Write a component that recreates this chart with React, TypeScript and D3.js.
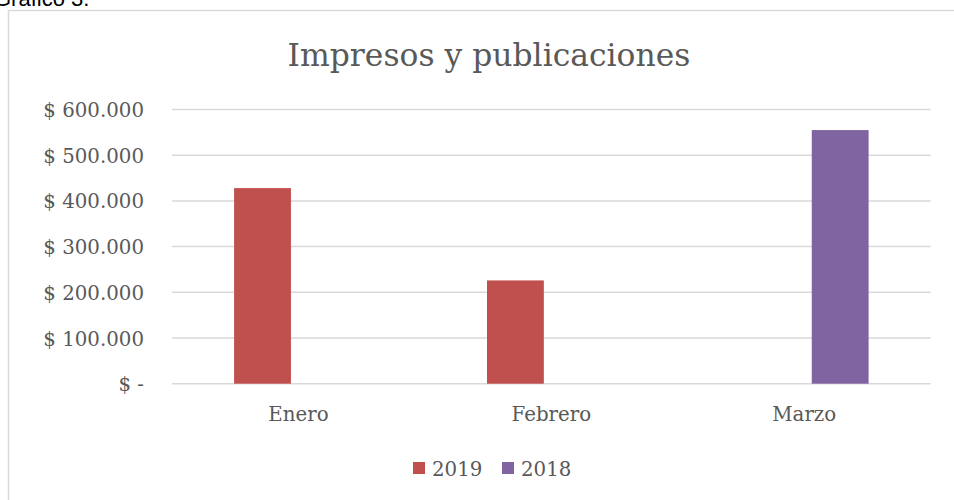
import React from "react";
import * as d3 from "d3";

const categories = ["Enero", "Febrero", "Marzo"];
const seriesNames = ["2019", "2018"];
const values2019 = [428000, 226000, 0];
const values2018 = [0, 0, 555000];
const yTicks = [0, 100000, 200000, 300000, 400000, 500000, 600000];
const colors = ["#C0504D", "#8064A2"];

const W = 954;
const H = 500;
const left = 172;
const right = 930.7;
const top = 109.5;
const bottom = 383.7;

function fmt(v: number): string {
  if (v === 0) return "$ -";
  return "$ " + d3.format(",")(v).replace(/,/g, ".");
}

export default function App() {
  const x = d3.scaleBand<string>().domain(categories).range([left, right]).padding(0);
  const xi = d3
    .scaleBand<string>()
    .domain(seriesNames)
    .range([0, x.bandwidth()])
    .paddingInner(0.209)
    .paddingOuter(0.864);
  const y = d3.scaleLinear().domain([0, 600000]).range([bottom, top]);
  const series = [values2019, values2018];
  const serif = "'DejaVu Serif', serif";
  const textColor = "#595959";
  const fs = 19.8;

  return (
    <svg
      width={W}
      height={H}
      style={{ position: "absolute", left: 0, top: 0, background: "#fff" }}
    >
      <text x={-6} y={6} fontFamily="'Liberation Sans', Arial, sans-serif" fontSize={22} fill="#000">
        Gráfico 3.
      </text>
      <rect x={8.5} y={10.5} width={W} height={H} fill="#fff" stroke="#d9d9d9" strokeWidth={1.5} />
      <text
        x={489}
        y={66}
        textAnchor="middle"
        fontFamily={serif}
        fontSize={31.4}
        fill={textColor}
      >
        Impresos y publicaciones
      </text>
      {yTicks.map((t) => (
        <g key={t}>
          <line x1={left} x2={right} y1={y(t)} y2={y(t)} stroke="#d9d9d9" strokeWidth={1.5} />
          <text
            x={144}
            y={y(t) + 7.5}
            textAnchor="end"
            fontFamily={serif}
            fontSize={fs}
            fill={textColor}
          >
            {fmt(t)}
          </text>
        </g>
      ))}
      {categories.map((c, i) => (
        <g key={c}>
          {series.map((vals, si) =>
            vals[i] > 0 ? (
              <rect
                key={si}
                x={(x(c) as number) + (xi(seriesNames[si]) as number)}
                y={y(vals[i])}
                width={xi.bandwidth()}
                height={y(0) - y(vals[i])}
                fill={colors[si]}
              />
            ) : null
          )}
          <text
            x={(x(c) as number) + x.bandwidth() / 2}
            y={421}
            textAnchor="middle"
            fontFamily={serif}
            fontSize={fs}
            fill={textColor}
          >
            {c}
          </text>
        </g>
      ))}
      {seriesNames.map((s, i) => (
        <g key={s} transform={`translate(${413 + i * 89},0)`}>
          <rect x={0} y={462} width={12} height={12} fill={colors[i]} />
          <text x={19} y={476} fontFamily={serif} fontSize={fs} fill={textColor}>
            {s}
          </text>
        </g>
      ))}
    </svg>
  );
}
